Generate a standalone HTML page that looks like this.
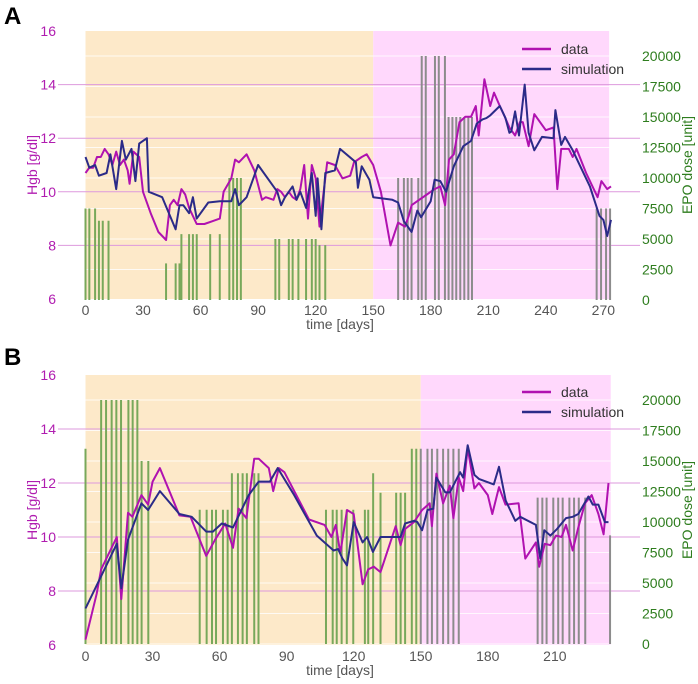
<!DOCTYPE html>
<html><head><meta charset="utf-8"><style>
body{margin:0;background:#fff;}
svg text{font-family:"Liberation Sans",sans-serif;}
</style></head><body>
<svg id="chart" width="698" height="679" xmlns="http://www.w3.org/2000/svg"></svg>
<script>
// ---------- Panel A data ----------
const aDoseDays=[0,2,5,7,9,12,42,47,49,50,54,56,58,65,70,75,77,79,81,99,101,106,108,111,115,118,120,122,125,163,166,168,170,173.5,175.3,177.4,182.2,184.2,187.4,189.3,191.3,193.3,195.4,197.5,199.6,201.5,266.5,268.8,271.4,273.5];
const aDoseVals=[7500,7500,7500,6500,6500,6500,3000,3000,3000,5400,5400,5400,5400,5400,5400,10000,10000,10000,10000,5000,5000,5000,5000,5000,5000,5000,5000,4500,4500,10000,10000,10000,10000,10000,20000,20000,20000,20000,20000,15000,15000,15000,15000,15000,15000,15000,7500,7500,7500,7500];
const aDataDays=[0,2,4,6,8,10,12,14,16,18,20,22,23,25,28,30,34,38,42,44,46,48,50,52,54,58,62,66,70,72,76,78,80,84,88,92,94,98,100,102,104,106,108,110,112,114,116,118,120,122,126,130,134,138,140,144,146.6,150,154,159,163,166.6,168.5,170,174,178,182,185,187.5,189.5,192,195,198,201,203.5,205,208,211,213,216,218,221,224,226.5,228,231,234,240,244,246,248,252,254,256,261,267,269,272,274];
const aDataVals=[10.7,10.9,10.9,11.3,11.3,11.6,11.4,11.0,11.5,11.0,11.2,10.8,10.3,11.5,11.3,10.0,9.2,8.5,8.2,9.5,9.7,9.5,10.1,9.9,9.4,8.8,8.8,8.9,9.0,10.0,10.5,11.2,11.1,11.4,10.8,9.7,9.8,9.7,10.1,10.0,9.8,10.0,9.8,9.7,10.1,11.0,9.0,11.0,10.5,8.7,11.1,11.0,10.5,10.6,11.1,11.3,11.4,11.0,10.0,8.0,8.85,8.7,9.1,9.5,9.7,9.9,10.1,10.2,9.5,11.2,11.4,12.6,12.8,12.8,13.2,12.1,14.2,13.2,13.7,13.2,12.9,12.4,12.1,12.6,12.6,11.7,12.9,12.3,12.4,10.1,11.6,11.6,11.3,11.6,10.7,9.8,10.4,10.1,10.2];
const aSimDays=[0,2,5,7,11,13,16,19,21,24,26,28,32,33,40,47,49,51,54,56,58,64,70,76,78,80,84,90,96,100,102,104,108,110,112,115,118,120,121,123,125,130,132.7,141,142,144,146,148,150,160,163,166,170,173,175,180,182,185,188,192,197,201,204,207,209,211,216,219,221,222,224,226,229,231,234,238,244,245,248,250,254,257,263,268,270,272,274];
const aSimVals=[11.3,10.9,11.0,10.6,10.7,11.4,10.1,11.9,11.2,11.6,10.4,11.8,12.0,10.0,9.8,8.6,9.5,9.5,9.2,9.8,9.0,9.6,9.65,9.65,10.1,9.5,9.8,11.0,10.4,10.0,9.5,9.8,10.2,9.7,10.0,9.4,10.7,9.1,10.5,8.6,10.7,10.8,11.6,11.1,10.15,10.95,10.7,10.45,9.8,9.7,9.6,8.9,8.5,9.3,9.05,9.65,10.45,10.4,10.0,10.95,11.7,11.9,12.55,12.7,12.75,12.85,13.2,12.75,12.2,12.25,13.0,12.1,14.0,12.2,11.55,12.05,12.0,13.05,11.75,12.05,11.55,11.1,10.2,9.1,8.95,8.35,8.95];
// ---------- Panel B data ----------
const bDoseDays=[0,7,9.2,11.7,13.8,15.9,19.2,21.1,23.2,25.1,28.1,51.1,54.2,56.6,58.4,61.5,63.6,65.5,68.2,70.3,72.2,75.5,77.4,107.6,110.6,112.4,114.6,116.9,119.8,125,126.5,128.7,132,139,141,143,146,148,150,153,155,157.4,160,162.3,164.6,167,202.3,204.4,206.3,209.3,211.5,213.5,216.5,218.6,220.7,223.6,234.7];
const bDoseVals=[16000,20000,20000,20000,20000,20000,20000,20000,20000,15000,15000,11000,11000,11000,11000,11000,11000,14000,14000,14000,14000,14000,14000,11000,11000,11000,11000,11000,11000,11000,11000,14000,12400,12400,12400,12400,16000,16000,16000,16000,16000,16000,16000,16000,16000,16000,12000,12000,12000,12000,12000,12000,12000,12000,12000,12000,8900];
const bDataDays=[0,5,7,14,16,19,21,25,28,30,33.3,42,47,54,58,62.5,66,68.5,72,75.5,77.5,82,84,86.5,89,100,107,110,112,114,117,120,124,126.5,129,132,138.8,141,143,147,150.6,154,155,157,160,163,164.6,167,169,171,174,176,180,182,185,187.9,193.8,196.8,201.5,203,205.5,208,210.5,213,215,218,220.5,223.5,226.5,229.5,231.8,234];
const bDataVals=[6.2,7.9,8.8,10.0,7.7,10.9,10.75,11.55,11.2,12.05,12.55,10.8,10.75,9.3,9.9,10.5,9.6,11.05,10.7,12.9,12.9,12.55,11.7,12.55,12.4,10.65,10.45,10.0,10.45,9.4,11.0,10.85,8.25,8.8,8.9,8.7,10.4,9.7,10.3,10.55,11.0,11.25,10.4,12.35,11.25,11.9,10.7,12.2,11.7,13.3,11.8,12.0,11.55,10.85,11.85,11.2,11.25,9.2,9.8,8.9,9.75,9.7,10.05,10.0,10.45,9.5,10.35,11.25,11.55,10.85,10.1,12.0];
const bSimDays=[0,14,16,19,25,28,33.3,42,47.5,54,57,61,66,73,77.5,82.5,86,93,103.5,111,113,115,117,120,124,126,128.6,132,139,141,143,147,148.5,150.6,153,155.6,157,161,163,167.6,169,171,174,176,182.7,185,188,192.3,194.5,201.5,203.5,205.3,208,211,215,218,220.5,225,227,229.5,232.4,234];
const bSimVals=[7.35,9.75,8.1,9.9,11.25,11.0,11.7,10.85,10.75,10.2,10.2,10.5,10.35,11.55,12.05,12.05,12.55,11.6,10.05,9.5,9.55,9.2,8.95,10.55,9.8,10.0,9.45,10.0,10.0,10.0,10.5,10.6,10.55,10.25,11.0,11.05,12.2,11.65,11.65,12.4,12.2,13.4,12.3,12.15,11.95,12.6,11.35,10.6,10.75,10.45,9.2,10.25,10.05,10.3,10.7,10.75,10.85,11.5,11.2,11.2,10.55,10.55];
const aXTicks=[0,30,60,90,120,150,180,210,240,270];
const bXTicks=[0,30,60,90,120,150,180,210];
const hgbTicks=[6,8,10,12,14,16];
const doseTicks=[0,2500,5000,7500,10000,12500,15000,17500,20000];

const svg=document.getElementById('chart');
const NS='http://www.w3.org/2000/svg';
function mk(tag,attrs,parent){const e=document.createElementNS(NS,tag);for(const k in attrs)e.setAttribute(k,attrs[k]);(parent||svg).appendChild(e);return e;}

function panel(P){
  const g=mk('g',{});
  
  
  const xs=d=>P.x0+d*P.xk;
  const yh=v=>P.y6-(v-6)*(P.y6-P.y16)/10;
  const yd=v=>P.yd0-v*(P.yd0-P.yd20)/20000;
  const bg1=mk('rect',{x:xs(0),y:P.y16,width:xs(150)-xs(0),height:P.y6-P.y16,fill:'#fde9c9'},g);
  
  
  const bg2=mk('rect',{x:xs(150),y:P.y16,width:xs(P.end)-xs(150),height:P.y6-P.y16,fill:'#ffd8fc'},g);
  
  
  doseTicks.forEach(t=>{
    const l=mk('line',{x1:xs(0),x2:xs(P.end),y1:yd(t),y2:yd(t),stroke:'#fff','stroke-width':1,opacity:0.8},g);
    
    
    const tx=mk('text',{x:642,y:yd(t)+5,'font-size':14,fill:'#2e7d1e'},g);
    tx.textContent=t;
    
    
  });
  hgbTicks.forEach(t=>{
    if(t>6&&t<16){const l=mk('line',{x1:58,x2:640,y1:yh(t),y2:yh(t),stroke:'#dd99dd','stroke-width':1},g);
    
    }
    const tx=mk('text',{x:56,y:yh(t)+5,'font-size':14,fill:'#b01cb0','text-anchor':'end'},g);
    tx.textContent=t;
    
    
  });
  P.doseDays.forEach((d,i)=>{
    const b=mk('line',{x1:xs(d),x2:xs(d),y1:yd(0),y2:yd(P.doseVals[i]),stroke:d<150?'#78a85a':'#8c8c8c','stroke-width':2},g);
    
    
  });
  const pts=(D,V)=>D.map((d,i)=>xs(d).toFixed(1)+','+yh(V[i]).toFixed(1)).join(' ');
  const l1=mk('polyline',{points:pts(P.dataDays,P.dataVals),fill:'none',stroke:'#b012b0','stroke-width':2,'stroke-linejoin':'round'},g);
  
  
  const l2=mk('polyline',{points:pts(P.simDays,P.simVals),fill:'none',stroke:'#2b2b88','stroke-width':2,'stroke-linejoin':'round'},g);
  
  
  P.xTicks.forEach(t=>{
    const tx=mk('text',{x:xs(t),y:P.y6+16,'font-size':14,fill:'#555','text-anchor':'middle'},g);
    tx.textContent=t;
    
    
  });
  const xt=mk('text',{x:340,y:P.y6+30,'font-size':14,fill:'#555','text-anchor':'middle'},g);
  xt.textContent='time [days]';
  
  
  const yc=(P.y16+P.y6)/2;
  const yt=mk('text',{x:37,y:yc,'font-size':14,fill:'#b01cb0','text-anchor':'middle',transform:'rotate(-90 37 '+yc+')'},g);
  yt.textContent='Hgb [g/dl]';
  
  
  const yt2=mk('text',{x:692,y:yc,'font-size':14,fill:'#2e7d1e','text-anchor':'middle',transform:'rotate(-90 692 '+yc+')'},g);
  yt2.textContent='EPO dose [unit]';
  
  
  const lg=mk('g',{},g);
  
  
  [['data','#b012b0',0],['simulation','#2b2b88',20]].forEach(e=>{
    mk('line',{x1:522,x2:551,y1:P.legY+e[2],y2:P.legY+e[2],stroke:e[1],'stroke-width':2.5},lg);
    const tx=mk('text',{x:561,y:P.legY+e[2]+5,'font-size':14,fill:'#333'},lg);
    tx.textContent=e[0];
    
    
  });
  const pl=mk('text',{x:4,y:P.labY,'font-size':24,'font-weight':'bold',fill:'#000'},g);
  pl.textContent=P.label;
  
  
}
panel({name:'panel-a',label:'A',labY:24,x0:85.5,xk:1.918,end:273,y16:31,y6:299,yd0:300,yd20:56,legY:49,
  doseDays:aDoseDays,doseVals:aDoseVals,dataDays:aDataDays,dataVals:aDataVals,simDays:aSimDays,simVals:aSimVals,xTicks:aXTicks});
panel({name:'panel-b',label:'B',labY:365,x0:85.5,xk:2.235,end:235,y16:375,y6:645,yd0:644,yd20:400,legY:392,
  doseDays:bDoseDays,doseVals:bDoseVals,dataDays:bDataDays,dataVals:bDataVals,simDays:bSimDays,simVals:bSimVals,xTicks:bXTicks});
</script>
</body></html>
